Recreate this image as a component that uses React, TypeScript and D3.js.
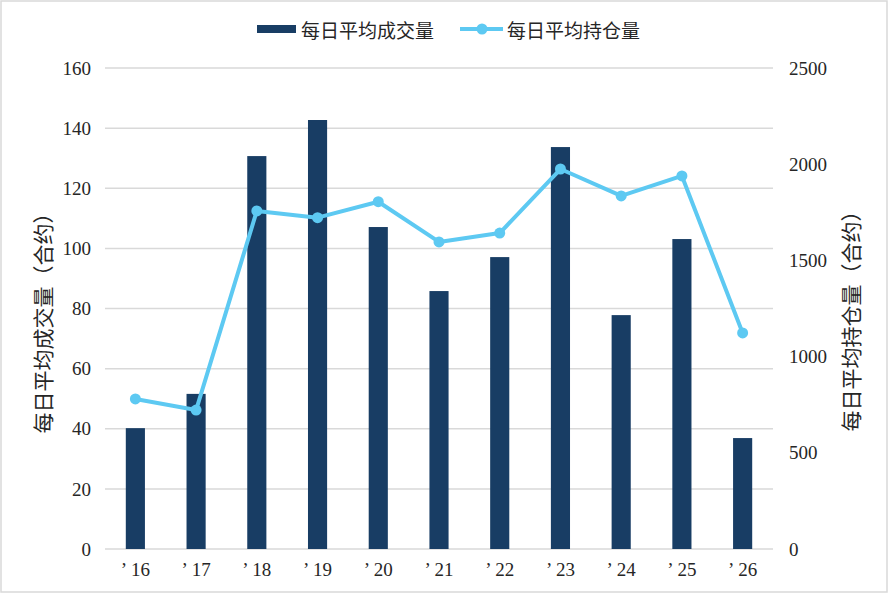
import { useEffect, useRef } from "react";
import * as d3 from "d3";

const years = ["’16", "’17", "’18", "’19", "’20", "’21", "’22", "’23", "’24", "’25", "’26"];
const dailyVolume = [40.2, 51.6, 130.7, 142.7, 107.1, 85.8, 97.1, 133.7, 77.8, 103.1, 36.9];
const dailyOpenInterest = [780, 722, 1757, 1722, 1805, 1596, 1642, 1975, 1835, 1939, 1123];
const leftTicks = [0, 20, 40, 60, 80, 100, 120, 140, 160];
const rightTicks = [0, 500, 1000, 1500, 2000, 2500];

const volumeName = "每日平均成交量";
const oiName = "每日平均持仓量";
const leftTitle = "每日平均成交量（合约）";
const rightTitle = "每日平均持仓量（合约）";

const W = 888;
const H = 593;
const BAR = "#183D64";
const LINE = "#5DC9F2";
const GRID = "#D9D9D9";
const SERIF = "'Liberation Serif', 'Times New Roman', serif";
const CJK = "'Noto Sans CJK SC', 'Noto Sans', sans-serif";

const App = () => {
  const svgRef = useRef<SVGSVGElement>(null);

  useEffect(() => {
    document.body.style.margin = "0";
    const svg = d3.select(svgRef.current);
    svg.selectAll("*").remove();

    const margin = { top: 68, right: 115, bottom: 44, left: 105 };
    const x0 = margin.left;
    const x1 = W - margin.right;
    const yBottom = H - margin.bottom;

    svg
      .append("rect")
      .attr("x", 1)
      .attr("y", 1)
      .attr("width", W - 2)
      .attr("height", H - 2)
      .attr("fill", "#fff")
      .attr("stroke", GRID)
      .attr("stroke-width", 1.5);

    const x = d3
      .scaleBand()
      .domain(years)
      .range([x0, x1])
      .paddingInner(0.685)
      .paddingOuter(0.3425);

    const yL = d3.scaleLinear().domain([0, 160]).range([yBottom, margin.top]);
    const yR = d3.scaleLinear().domain([0, 2500]).range([yBottom, margin.top]);

    // grid
    svg
      .append("g")
      .selectAll("line")
      .data(leftTicks)
      .enter()
      .append("line")
      .attr("x1", x0)
      .attr("x2", x1)
      .attr("y1", (d) => yL(d))
      .attr("y2", (d) => yL(d))
      .attr("stroke", GRID)
      .attr("stroke-width", 1.5);

    // left tick labels
    svg
      .append("g")
      .selectAll("text")
      .data(leftTicks)
      .enter()
      .append("text")
      .attr("x", x0 - 14)
      .attr("y", (d) => yL(d))
      .attr("dy", "0.35em")
      .attr("text-anchor", "end")
      .attr("font-family", SERIF)
      .attr("font-size", 19)
      .attr("fill", "#262626")
      .text((d) => d);

    // right tick labels
    svg
      .append("g")
      .selectAll("text")
      .data(rightTicks)
      .enter()
      .append("text")
      .attr("x", x1 + 16)
      .attr("y", (d) => yR(d))
      .attr("dy", "0.35em")
      .attr("text-anchor", "start")
      .attr("font-family", SERIF)
      .attr("font-size", 19)
      .attr("fill", "#262626")
      .text((d) => d);

    // x labels
    svg
      .append("g")
      .selectAll("text")
      .data(years)
      .enter()
      .append("text")
      .attr("x", (d) => (x(d) ?? 0) + x.bandwidth() / 2)
      .attr("y", yBottom + 27)
      .attr("text-anchor", "middle")
      .attr("font-family", SERIF)
      .attr("font-size", 19)
      .attr("fill", "#262626")
      .text((d) => d.replace("’", "’\u2009"));

    // bars
    svg
      .append("g")
      .selectAll("rect")
      .data(dailyVolume)
      .enter()
      .append("rect")
      .attr("x", (_d, i) => x(years[i]) ?? 0)
      .attr("y", (d) => yL(d))
      .attr("width", x.bandwidth())
      .attr("height", (d) => yBottom - yL(d))
      .attr("fill", BAR);

    // line
    const pts = dailyOpenInterest.map((v, i) => ({
      cx: (x(years[i]) ?? 0) + x.bandwidth() / 2,
      cy: yR(v),
    }));
    const line = d3
      .line<{ cx: number; cy: number }>()
      .x((d) => d.cx)
      .y((d) => d.cy);

    svg
      .append("path")
      .datum(pts)
      .attr("d", line)
      .attr("fill", "none")
      .attr("stroke", LINE)
      .attr("stroke-width", 4)
      .attr("stroke-linejoin", "round");

    svg
      .append("g")
      .selectAll("circle")
      .data(pts)
      .enter()
      .append("circle")
      .attr("cx", (d) => d.cx)
      .attr("cy", (d) => d.cy)
      .attr("r", 5.5)
      .attr("fill", LINE);

    // axis titles
    svg
      .append("text")
      .attr("transform", `translate(42,318) rotate(-90)`)
      .attr("text-anchor", "middle")
      .attr("dominant-baseline", "central")
      .attr("font-family", CJK)
      .attr("font-size", 21)
      .attr("fill", "#262626")
      .text(leftTitle);

    svg
      .append("text")
      .attr("transform", `translate(850,316) rotate(-90)`)
      .attr("text-anchor", "middle")
      .attr("dominant-baseline", "central")
      .attr("font-family", CJK)
      .attr("font-size", 21)
      .attr("fill", "#262626")
      .text(rightTitle);

    // legend
    const lg = svg.append("g");
    lg.append("rect")
      .attr("x", 257)
      .attr("y", 25)
      .attr("width", 39)
      .attr("height", 8)
      .attr("fill", BAR);
    lg.append("text")
      .attr("x", 301)
      .attr("y", 29)
      .attr("dominant-baseline", "central")
      .attr("font-family", CJK)
      .attr("font-size", 19)
      .attr("fill", "#262626")
      .text(volumeName);
    lg.append("line")
      .attr("x1", 460)
      .attr("x2", 503)
      .attr("y1", 29)
      .attr("y2", 29)
      .attr("stroke", LINE)
      .attr("stroke-width", 4);
    lg.append("circle")
      .attr("cx", 482)
      .attr("cy", 29)
      .attr("r", 5.5)
      .attr("fill", LINE);
    lg.append("text")
      .attr("x", 507)
      .attr("y", 29)
      .attr("dominant-baseline", "central")
      .attr("font-family", CJK)
      .attr("font-size", 19)
      .attr("fill", "#262626")
      .text(oiName);
  }, []);

  return <svg ref={svgRef} width={W} height={H} style={{ display: "block" }} />;
};

export default App;
